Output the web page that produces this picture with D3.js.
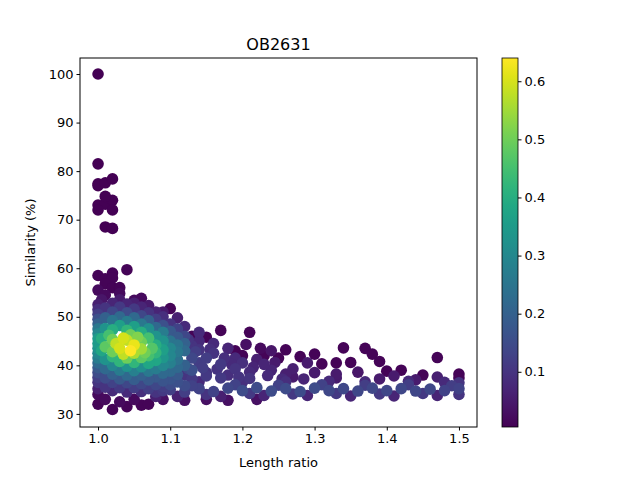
<!DOCTYPE html>
<html><head><meta charset="utf-8">
<script src="https://cdn.jsdelivr.net/npm/d3@7"></script>
<style>body{margin:0;background:#fff}text{font-family:"DejaVu Sans",sans-serif}</style>
</head><body><svg id="c" width="640" height="480"></svg>
<script>
const title = "OB2631";
const xLabel = "Length ratio";
const yLabel = "Similarity (%)";
const xTicks = [1.0,1.1,1.2,1.3,1.4,1.5];
const yTicks = [30,40,50,60,70,80,90,100];
const cTicks = [0.1,0.2,0.3,0.4,0.5,0.6];
// [length ratio, similarity, density]
const outliers = [
[1.0,100,0.005],[1.0,81.5,0.005],[1.0,77,0.005],[1.0,77.4,0.005],[1.01,77.6,0.005],[1.02,78.4,0.005],
[1.0,73,0.005],[1.01,73.2,0.005],[1.0,72,0.005],[1.02,74,0.005],[1.02,72,0.005],[1.01,74.8,0.005],
[1.01,68.5,0.005],[1.02,68.2,0.005],[1.0,58.5,0.01],[1.01,57.8,0.01],[1.02,59,0.01],[1.02,58,0.01],
[1.04,59.7,0.01],[1.01,56.8,0.01],[1.02,56,0.01],[1.03,56,0.01],[1.1,51.7,0.01],[1.21,46.8,0.01],
[1.17,47.2,0.01],[1.34,43.6,0.01],[1.37,43.5,0.01],[1.38,42.3,0.01],[1.39,40.8,0.01],[1.47,41.6,0.01],
[1.42,39,0.01],[1.40,38.8,0.01],[1.45,38,0.01],[1.5,38.2,0.01],[1.5,37.4,0.01],[1.0,32,0.01],
[1.02,30.9,0.01],[1.04,31.5,0.01],[1.06,31.8,0.01],[1.07,32,0.01],[1.26,43.2,0.01],[1.23,42,0.01],
[1.25,41.5,0.01],[1.28,41.8,0.01],[1.3,42.3,0.01],[1.33,40.5,0.01],[1.31,40.3,0.01],[1.35,40.6,0.01],
[1.19,43,0.01],[1.2,42,0.01],[1.15,45.8,0.01],[1.13,46,0.01],[1.06,53.8,0.02],[1.05,53.4,0.02],
[1.0,34,0.02],[1.01,33,0.02],[1.03,32.5,0.02],[1.05,33,0.02],[1.09,33,0.03],[1.12,32.8,0.03],
[1.15,33,0.03],[1.18,32.8,0.03],[1.22,33,0.03],[1.0,55.5,0.02],[1.01,54.5,0.02],[1.03,54.8,0.02]
];
const bandPoints = [
[1.08,34.5,0.1],[1.10,35,0.12],[1.12,34.5,0.12],[1.14,35.2,0.13],[1.16,34.6,0.13],[1.18,35.3,0.14],
[1.20,34.8,0.15],[1.22,35.4,0.15],[1.24,34.7,0.15],[1.26,35.2,0.15],[1.28,34.6,0.15],[1.30,35.3,0.15],
[1.32,34.8,0.14],[1.34,35.2,0.14],[1.36,34.7,0.14],[1.38,35.3,0.14],[1.40,34.8,0.14],[1.42,35.2,0.14],
[1.44,34.7,0.14],[1.46,35.1,0.14],[1.48,34.8,0.13],[1.50,35.2,0.13],[1.50,34,0.1],[1.50,36.4,0.1],
[1.11,33.6,0.06],[1.17,33.6,0.06],[1.23,33.8,0.07],[1.29,33.8,0.07],[1.35,33.7,0.07],[1.41,33.7,0.07],
[1.47,33.8,0.07],[1.14,36.6,0.08],[1.20,36.5,0.09],[1.26,36.6,0.09],[1.32,36.7,0.08],[1.37,36.6,0.08],
[1.43,36.7,0.08],[1.48,36.5,0.08],[1.27,37.6,0.05],[1.33,37.4,0.05],[1.39,37.2,0.05],[1.44,37,0.05],
[1.12,38,0.1],[1.15,38.5,0.1],[1.18,38,0.09],[1.21,38.6,0.08],[1.24,39,0.07],[1.27,39.3,0.06],
[1.14,40.5,0.12],[1.17,40.2,0.11],[1.20,40.5,0.09],[1.23,40.2,0.07],[1.16,42.5,0.1],[1.19,41.5,0.08],
[1.13,44,0.1],[1.16,44.5,0.08],[1.11,46,0.1],[1.09,48.5,0.1],[1.11,42.5,0.14],[1.13,41.5,0.14],
[1.21,37.3,0.1],[1.17,37.4,0.11],[1.30,38.5,0.05],[1.36,38.6,0.04],[1.24,43,0.04],[1.29,40.5,0.05],
[1.09,35.6,0.12],[1.13,35.8,0.13],[1.19,36,0.13],[1.25,35.9,0.13],[1.31,36,0.13],[1.37,35.9,0.12],
[1.43,36,0.12],[1.49,35.8,0.12],[1.15,34,0.1],[1.21,34.2,0.11],[1.27,34.1,0.11],[1.33,34.2,0.11],
[1.39,34.1,0.11],[1.45,34.2,0.11],[1.13,37.2,0.11],[1.19,39.3,0.1],[1.22,41.2,0.06],[1.15,41.5,0.12],
[1.18,43.5,0.07],[1.14,45,0.08],[1.26,38.2,0.06],[1.33,38.2,0.05],[1.41,37.8,0.05],[1.47,37.6,0.06],
[1.125,39.3,0.14],[1.135,42.8,0.12],[1.145,39.5,0.12],[1.155,43.3,0.09],[1.165,39.2,0.1],[1.175,41.5,0.09],
[1.185,40.2,0.08],[1.195,37.6,0.1],[1.215,39.6,0.07],[1.235,37.9,0.08],[1.245,40.6,0.05],[1.255,37.2,0.08],
[1.285,37.2,0.07],[1.15,37.8,0.11],[1.125,45.3,0.1],[1.14,43.2,0.1],[1.205,44.3,0.03],[1.225,43.5,0.02]
];
const corePoints = [
[1.0,52.5,0.06],[1.02,52.8,0.07],[1.04,52.6,0.07],[1.06,52,0.07],[1.08,51,0.07],
[1.0,50.5,0.12],[1.02,51,0.14],[1.04,50.8,0.15],[1.06,50.2,0.14],[1.08,49.5,0.12],[1.10,48.5,0.1],
[1.0,48.5,0.2],[1.02,49.2,0.25],[1.04,49,0.27],[1.06,48.5,0.26],[1.08,47.8,0.22],[1.10,47,0.18],[1.12,46,0.14],
[1.0,46.5,0.3],[1.02,47.3,0.4],[1.04,47.2,0.42],[1.06,46.8,0.4],[1.08,46,0.33],[1.10,45,0.25],[1.12,44.5,0.2],
[1.0,44.5,0.35],[1.02,45.3,0.5],[1.04,45.2,0.58],[1.06,44.8,0.5],[1.08,44.2,0.4],[1.10,43.5,0.3],[1.12,43,0.22],
[1.01,43.8,0.48],[1.03,43.5,0.6],[1.045,43,0.64],[1.06,43.4,0.55],[1.08,42.6,0.42],[1.10,42,0.3],
[1.0,42.5,0.3],[1.02,41.8,0.42],[1.04,41.5,0.5],[1.06,41.6,0.48],[1.08,41,0.38],[1.10,40.5,0.28],[1.12,40,0.2],
[1.0,40.5,0.22],[1.02,40,0.3],[1.04,39.8,0.33],[1.06,39.7,0.32],[1.08,39.3,0.27],[1.10,38.8,0.22],[1.13,39,0.16],
[1.0,38.5,0.15],[1.02,38.2,0.2],[1.04,38,0.22],[1.06,38,0.2],[1.08,37.6,0.18],[1.10,37.2,0.17],
[1.0,36.5,0.1],[1.02,36.5,0.13],[1.04,36.4,0.14],[1.06,36.2,0.14],[1.08,36,0.14],[1.10,36,0.15],[1.12,35.8,0.15],
[1.0,35.2,0.06],[1.02,34.8,0.08],[1.04,34.5,0.08],[1.06,34.6,0.09],[1.08,33.6,0.06],
[1.035,45.6,0.6],[1.05,44.2,0.62],[1.025,44.5,0.58],[1.055,45.8,0.52],[1.015,46.2,0.45],[1.065,42.6,0.5],
[1.01,51.8,0.1],[1.03,52,0.11],[1.05,51.6,0.11],[1.07,50.8,0.1],[1.09,50,0.09],
[1.01,49.8,0.2],[1.03,50,0.22],[1.05,49.8,0.22],[1.07,49.2,0.2],[1.09,48.2,0.16],[1.11,47.5,0.13],
[1.01,47.6,0.33],[1.03,48.2,0.36],[1.05,48,0.36],[1.07,47.5,0.32],[1.09,46.8,0.27],[1.11,45.8,0.18],
[1.005,45.5,0.4],[1.045,46.3,0.5],[1.07,45.6,0.45],[1.09,45,0.33],[1.11,44.2,0.25],
[1.075,43.5,0.47],[1.09,43.2,0.36],[1.11,42.8,0.26],[1.005,43,0.38],[1.02,42.8,0.5],[1.035,42.3,0.58],
[1.05,42.5,0.56],[1.07,42,0.45],[1.09,41.6,0.34],[1.11,41.2,0.24],
[1.01,41.2,0.33],[1.03,40.8,0.42],[1.05,40.6,0.42],[1.07,40.4,0.38],[1.09,40,0.3],[1.11,39.6,0.22],
[1.01,39.3,0.22],[1.03,39,0.27],[1.05,38.9,0.28],[1.07,38.8,0.26],[1.09,38.4,0.22],[1.11,38.1,0.18],
[1.01,37.4,0.15],[1.03,37.2,0.18],[1.05,37.1,0.19],[1.07,37,0.18],[1.09,36.8,0.17],[1.11,36.6,0.16],
[1.01,35.5,0.1],[1.03,35.4,0.11],[1.05,35.4,0.12],[1.07,35.2,0.12],[1.09,34.8,0.11],
[1.0,37.5,0.12],[1.0,39.5,0.18],[1.0,41.5,0.27],[1.0,43.5,0.33],[1.0,45.5,0.35],[1.0,47.5,0.26],[1.0,49.5,0.16],[1.0,51.5,0.09],
[1.005,53.5,0.04],[1.03,53.5,0.05],[1.05,52.8,0.06],[1.07,52.3,0.05],[1.09,51,0.05],[1.11,49.8,0.06],[1.12,48,0.08],[1.14,46.8,0.08]
];
const pts = outliers.concat(bandPoints, corePoints).sort((a,b)=>a[2]-b[2]);

const svg = d3.select("#c");
const L=80,R=477,T=58,B=427;
const x = d3.scaleLinear().domain([0.975,1.525]).range([L,R]);
const y = d3.scaleLinear().domain([27.3,103.3]).range([B,T]);
const cmin=0.005,cmax=0.64;
const col = d3.scaleSequential(d3.interpolateViridis).domain([cmin,cmax]);

svg.append("g").selectAll("circle").data(pts).join("circle")
 .attr("cx",d=>x(d[0])).attr("cy",d=>y(d[1])).attr("r",5.8).attr("fill",d=>col(d[2]));

svg.append("rect").attr("x",L).attr("y",T).attr("width",R-L).attr("height",B-T)
 .attr("fill","none").attr("stroke","#000").attr("stroke-width",1);
const xa = svg.append("g").attr("transform",`translate(0,${B})`)
 .call(d3.axisBottom(x).tickValues(xTicks).tickFormat(d3.format(".1f")).tickSize(3.5).tickPadding(3));
const ya = svg.append("g").attr("transform",`translate(${L},0)`)
 .call(d3.axisLeft(y).tickValues(yTicks).tickSize(3.5).tickPadding(3));
[xa,ya].forEach(a=>{a.select(".domain").remove();a.selectAll("text").attr("font-size",13).attr("fill","#000");});

svg.append("text").attr("x",(L+R)/2).attr("y",50).attr("text-anchor","middle").attr("font-size",16).text(title);
svg.append("text").attr("x",(L+R)/2).attr("y",467).attr("text-anchor","middle").attr("font-size",13).text(xLabel);
svg.append("text").attr("transform",`translate(35,${(T+B)/2}) rotate(-90)`).attr("text-anchor","middle").attr("font-size",13).text(yLabel);

// colorbar
const CX=502,CW=16;
const defs=svg.append("defs");
const g=defs.append("linearGradient").attr("id","vg").attr("x1",0).attr("y1",1).attr("x2",0).attr("y2",0);
d3.range(0,1.0001,0.05).forEach(t=>g.append("stop").attr("offset",t).attr("stop-color",d3.interpolateViridis(t)));
svg.append("rect").attr("x",CX).attr("y",T).attr("width",CW).attr("height",B-T).attr("fill","url(#vg)").attr("stroke","#000").attr("stroke-width",0.8);
const cy = d3.scaleLinear().domain([cmin,cmax]).range([B,T]);
const ca = svg.append("g").attr("transform",`translate(${CX+CW},0)`)
 .call(d3.axisRight(cy).tickValues(cTicks).tickFormat(d3.format(".1f")).tickSize(3.5).tickPadding(3));
ca.select(".domain").remove();
ca.selectAll("text").attr("font-size",13).attr("fill","#000");
</script></body></html>
